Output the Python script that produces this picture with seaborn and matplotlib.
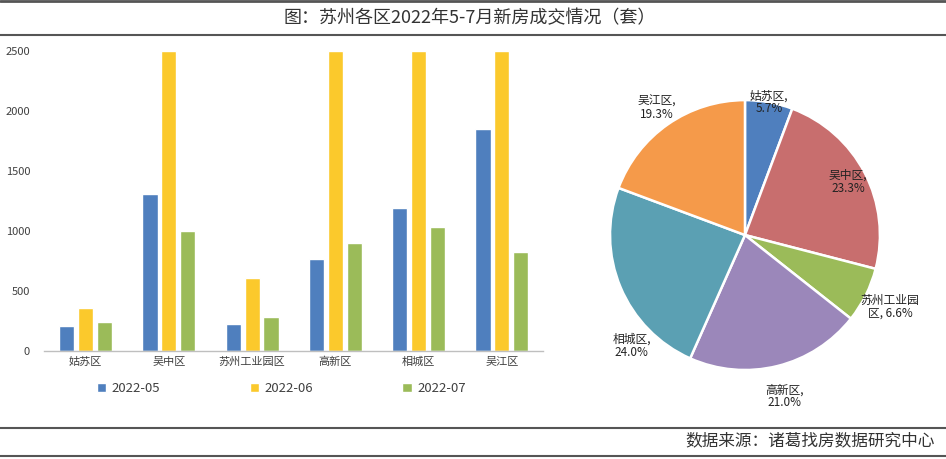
import matplotlib
matplotlib.use("Agg")
import matplotlib.pyplot as plt
import numpy as np
import pandas as pd
import seaborn as sns

# =====================================================
# DATA
# =====================================================

districts = ["姑苏区", "吴中区", "苏州工业园区", "高新区", "相城区", "吴江区"]
months = ["2022-05", "2022-06", "2022-07"]

may = [208, 1308, 225, 767, 1192, 1850]
june = [361, 2500, 611, 2500, 2500, 2500]
july = [242, 1000, 286, 903, 1033, 828]

pie_labels = ["姑苏区", "吴中区", "苏州工业园区", "高新区", "相城区", "吴江区"]
pie_share = [5.7, 23.3, 6.6, 21.0, 24.0, 19.3]

y_ticks = [0, 500, 1000, 1500, 2000, 2500]

# =====================================================
# STYLE
# =====================================================

sns.set_theme(style="white")
plt.rcParams["font.family"] = ["Noto Sans CJK SC", "DejaVu Sans"]

bar_colors = ["#4F7FBE", "#FBC92C", "#9BBB59"]
pie_colors = ["#4F7FBE", "#C86E6E", "#9BBB59", "#9B87BA", "#5BA0B3", "#F59A4A"]
text_color = "#404040"

df = pd.DataFrame({
    "district": districts * 3,
    "month": sum([[m] * len(districts) for m in months], []),
    "value": may + june + july,
})

fig = plt.figure(figsize=(9.46, 4.59), dpi=100)

# =====================================================
# HEADER / FOOTER LINES
# =====================================================

for y, lw in [(0.997, 2.0), (0.924, 1.5), (0.068, 1.5), (0.007, 1.5)]:
    fig.add_artist(plt.Line2D([0, 1], [y, y], color="#555555", lw=lw,
                              transform=fig.transFigure))

fig.text(0.497, 0.961, "图：苏州各区2022年5-7月新房成交情况（套）",
         ha="center", va="center", fontsize=13, color="#333333")
fig.text(0.988, 0.039, "数据来源：诸葛找房数据研究中心",
         ha="right", va="center", fontsize=12, color="#333333")

# =====================================================
# BAR CHART
# =====================================================

ax = fig.add_axes([0.0465, 0.2353, 0.528, 0.6536])
sns.barplot(data=df, x="district", y="value", hue="month",
            palette=bar_colors, width=0.68, gap=0.2,
            saturation=1, ax=ax, legend=True)

ax.set_ylim(0, 2500)
ax.set_yticks(y_ticks)
ax.set_xlim(-0.5, len(districts) - 0.5)
ax.set_xlabel("")
ax.set_ylabel("")
ax.tick_params(axis="both", labelsize=8, colors=text_color, length=0)
ax.tick_params(axis="y", pad=10)
ax.tick_params(axis="x", pad=4)
for s in ["top", "right", "left"]:
    ax.spines[s].set_visible(False)
ax.spines["bottom"].set_color("#BFBFBF")
ax.spines["bottom"].set_linewidth(1)

ax.legend(loc="upper center", bbox_to_anchor=(0.475, -0.065), ncol=3,
          frameon=False, fontsize=9.5, handlelength=0.7, handleheight=0.7,
          handletextpad=0.4, columnspacing=6.8, labelcolor=text_color)

# =====================================================
# PIE CHART
# =====================================================

pax = fig.add_axes([0.6448, 0.1939, 0.2854, 0.588])
wedges, texts = pax.pie(pie_share, colors=pie_colors, startangle=90,
                        counterclock=False, radius=1.0,
                        wedgeprops=dict(edgecolor="white", linewidth=1.8))
pax.set_xlim(-1.0, 1.0)
pax.set_ylim(-1.0, 1.0)
pax.set_aspect("equal")
pax.axis("off")

label_dist = [1.0, 0.86, 1.2, 1.23, 1.18, 1.15]
label_text = [
    "姑苏区,\n5.7%",
    "吴中区,\n23.3%",
    "苏州工业园\n区, 6.6%",
    "高新区,\n21.0%",
    "相城区,\n24.0%",
    "吴江区,\n19.3%",
]
for w, d, t in zip(wedges, label_dist, label_text):
    ang = np.deg2rad((w.theta1 + w.theta2) / 2)
    x, y = d * np.cos(ang), d * np.sin(ang)
    if t.startswith("相城"):
        x, y = -0.84, -0.82
    pax.text(x, y, t, ha="center", va="center", fontsize=8.5,
             color="#222222", linespacing=1.0, clip_on=False)

plt.savefig("out.png", dpi=100)
